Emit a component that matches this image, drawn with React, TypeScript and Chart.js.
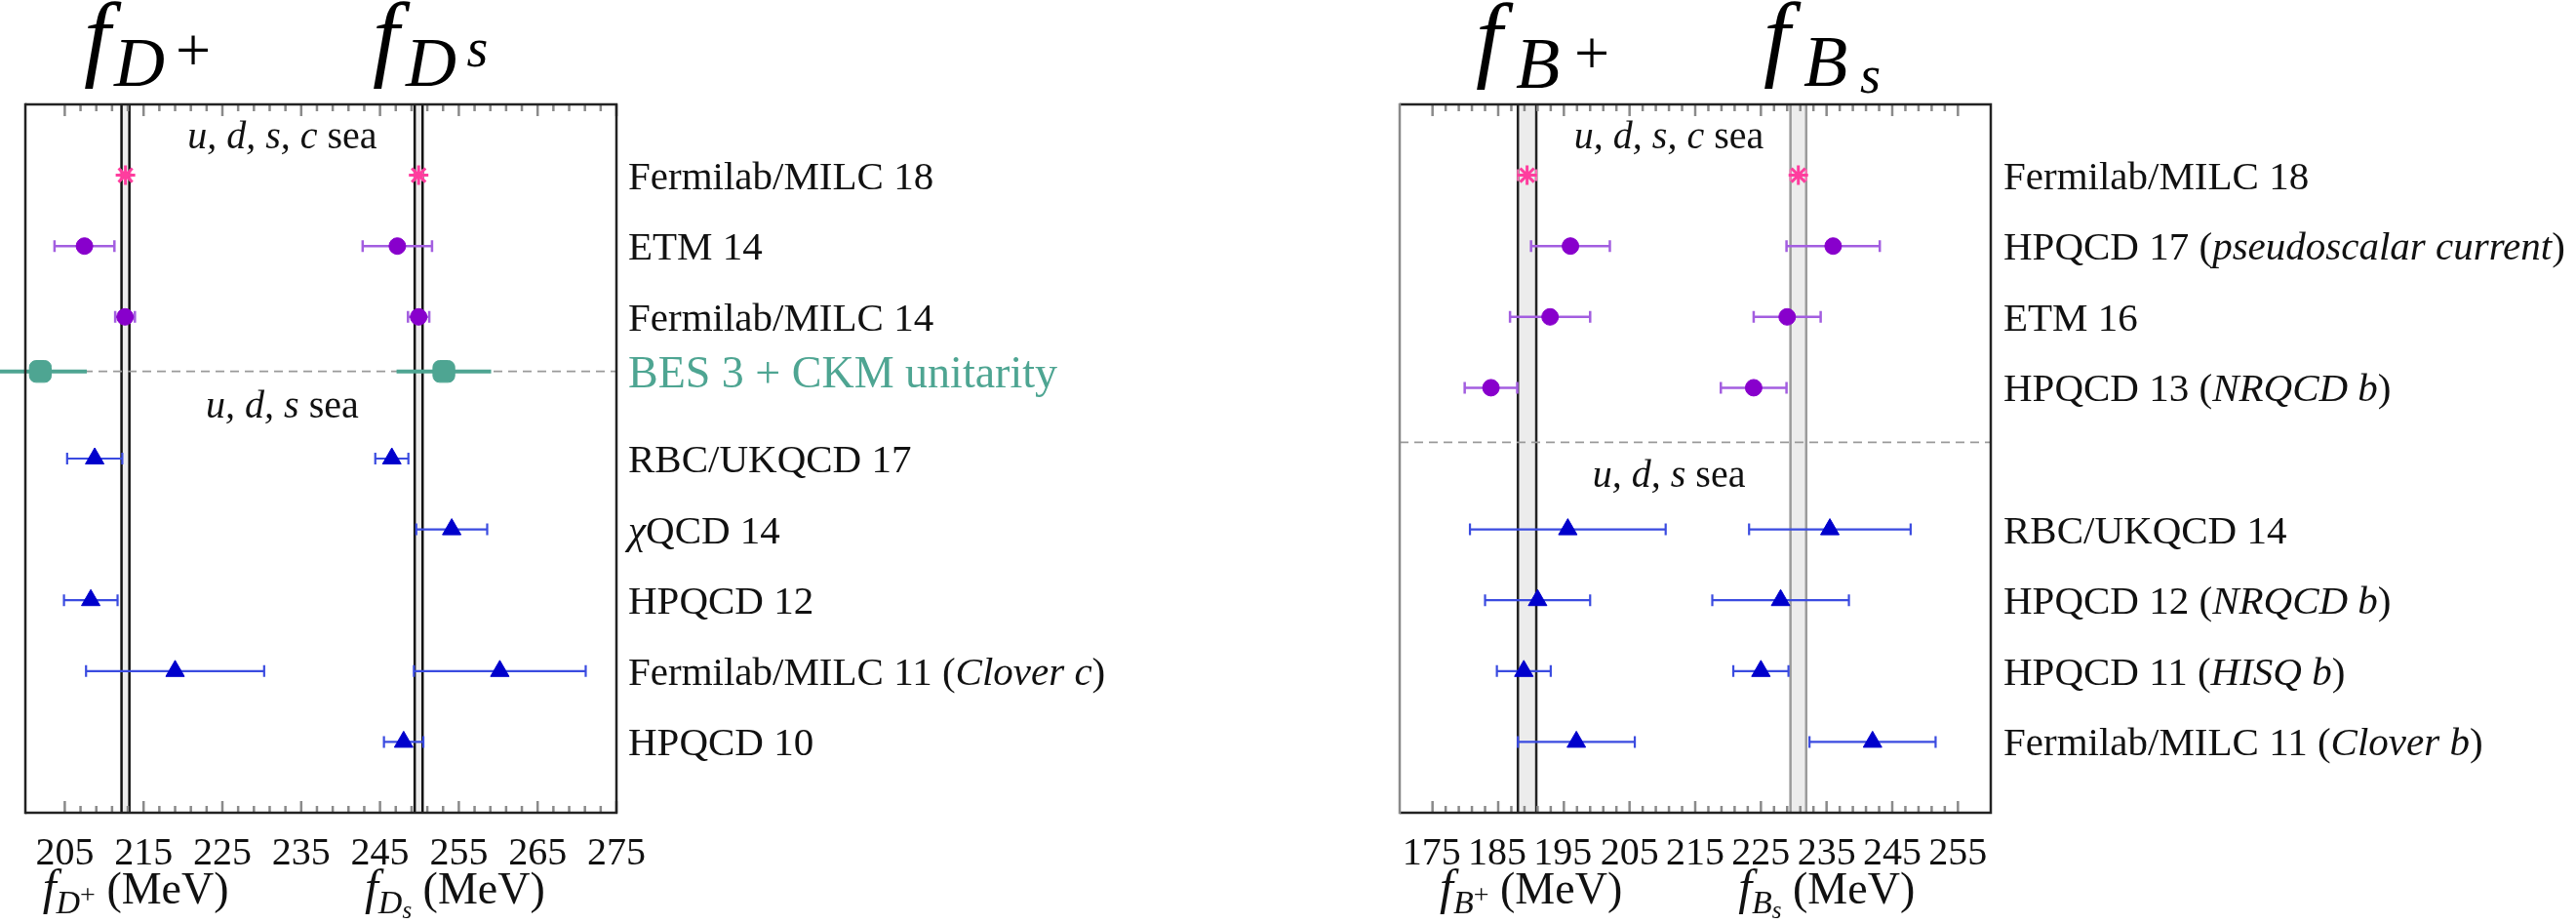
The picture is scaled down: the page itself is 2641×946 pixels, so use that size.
import { useEffect, useRef } from 'react';
import { Chart, registerables } from 'chart.js';

Chart.register(...registerables);

// ---------------- Left panel: f_D+ and f_Ds (MeV) ----------------
const dRows = [0, 1, 2, 2.77, 4, 5, 6, 7, 8];
const dLabels = ['Fermilab/MILC 18', 'ETM 14', 'Fermilab/MILC 14', 'BES 3 + CKM unitarity', 'RBC/UKQCD 17', 'χQCD 14', 'HPQCD 12', 'Fermilab/MILC 11', 'HPQCD 10'];
const dNotes = ['', '', '', '', '', '', '', 'Clover c', ''];
const dKinds = ['star', 'circle', 'circle', 'square', 'tri', 'tri', 'tri', 'tri', 'tri'];
const fDplus = [212.7, 207.5, 212.65, 201.9, 208.8, null, 208.3, 219.0, null];
const fDplusErr = [0.6, 3.8, 1.25, 5.9, 3.5, null, 3.4, 11.3, null];
const fDs = [249.9, 247.2, 249.9, 253.1, 246.5, 254.1, null, 260.2, 248.0];
const fDsErr = [0.5, 4.4, 1.35, 6.0, 2.1, 4.5, null, 10.9, 2.5];
const dBands = [[212.2, 213.2], [249.4, 250.4]];
const dTicks = [205, 215, 225, 235, 245, 255, 265, 275];
const dHeaders = ['u, d, s, c', 'u, d, s'];
const dHeaderRows = [-0.55, 3.26];
const dSeparators = [2.77];

// ---------------- Right panel: f_B+ and f_Bs (MeV) ----------------
const bRows = [0, 1, 2, 3, 5, 6, 7, 8];
const bLabels = ['Fermilab/MILC 18', 'HPQCD 17', 'ETM 16', 'HPQCD 13', 'RBC/UKQCD 14', 'HPQCD 12', 'HPQCD 11', 'Fermilab/MILC 11'];
const bNotes = ['', 'pseudoscalar current', '', 'NRQCD b', '', 'NRQCD b', 'HISQ b', 'Clover b'];
const bKinds = ['star', 'circle', 'circle', 'circle', 'tri', 'tri', 'tri', 'tri'];
const fBplus = [189.4, 196.0, 192.9, 183.9, 195.6, 191.0, 188.9, 196.9];
const fBplusErr = [1.4, 6.0, 6.1, 4.0, 14.9, 8.0, 4.1, 8.9];
const fBs = [230.7, 236.0, 229.0, 223.9, 235.5, 228.0, 225.0, 242.0];
const fBsErr = [1.2, 7.1, 5.1, 5.0, 12.3, 10.4, 4.2, 9.6];
const bBands = [[188.0, 190.8], [229.5, 231.9]];
const bTicks = [175, 185, 195, 205, 215, 225, 235, 245, 255];
const bHeaders = ['u, d, s, c', 'u, d, s'];
const bHeaderRows = [-0.55, 4.23];
const bSeparators = [3.77];

const SERIF = '"Liberation Serif", "Times New Roman", serif';

const STYLES: Record<string, any> = {
  star: { pointStyle: 'star', radius: 10, fill: '#ff3d9e', stroke: '#ff3d9e', bw: 3, err: '#ff6fb5', ew: 2, cap: 12 },
  circle: { pointStyle: 'circle', radius: 8.5, fill: '#8800cc', stroke: '#8800cc', bw: 1, err: '#a35ee0', ew: 2.5, cap: 12 },
  square: { pointStyle: 'rectRounded', radius: 13, fill: '#4ea592', stroke: '#4ea592', bw: 1, err: '#4ea592', ew: 4, cap: 0 },
  tri: { pointStyle: 'triangle', radius: 11, fill: '#0000cc', stroke: '#0000cc', bw: 1, err: '#3a4be0', ew: 2.2, cap: 12 },
};

type Seg = [string, string, number]; // text, font, dy

function buildDatasets(rows: number[], kinds: string[], v1: any[], e1: any[], v2: any[], e2: any[]) {
  const order = ['star', 'circle', 'square', 'tri'];
  const out: any[] = [];
  order.forEach((k) => {
    const data: any[] = [];
    rows.forEach((r, i) => {
      if (kinds[i] !== k) return;
      if (v1[i] != null) data.push({ x: v1[i], y: r, e: e1[i] });
      if (v2[i] != null) data.push({ x: v2[i], y: r, e: e2[i] });
    });
    if (!data.length) return;
    const s = STYLES[k];
    out.push({
      label: k,
      data,
      pointStyle: s.pointStyle,
      pointRadius: s.radius,
      pointHoverRadius: s.radius,
      backgroundColor: s.fill,
      borderColor: s.stroke,
      pointBorderWidth: s.bw,
      errColor: s.err,
      errWidth: s.ew,
      errCap: s.cap,
      showLine: false,
      clip: false,
    });
  });
  return out;
}

function inkText(ctx: CanvasRenderingContext2D, t: string, font: string, cx: number, base: number) {
  ctx.font = font;
  const m = ctx.measureText(t);
  const x = cx - (m.actualBoundingBoxRight - m.actualBoundingBoxLeft) / 2;
  ctx.fillText(t, x, base);
}

function richText(ctx: CanvasRenderingContext2D, segs: Seg[], x: number, base: number, align: 'left' | 'center') {
  let total = 0;
  const ws = segs.map(([t, f]) => {
    ctx.font = f;
    const w = ctx.measureText(t).width;
    total += w;
    return w;
  });
  let cx = align === 'center' ? x - total / 2 : x;
  segs.forEach(([t, f, dy], i) => {
    ctx.font = f;
    ctx.fillText(t, cx, base + dy);
    cx += ws[i];
  });
}

const rom = (s: number) => `${s}px ${SERIF}`;
const ita = (s: number) => `italic ${s}px ${SERIF}`;

function labelSegs(label: string, note: string, size: number): Seg[] {
  const segs: Seg[] = [];
  const parts = label.split(/([\u0370-\u03FF])/).filter((p) => p.length);
  parts.forEach((p) => {
    if (/[\u0370-\u03FF]/.test(p)) segs.push([p, ita(size), 0]);
    else segs.push([p, rom(size), 0]);
  });
  if (note) {
    segs.push([' (', rom(size), 0]);
    segs.push([note, ita(size), 0]);
    segs.push([')', rom(size), 0]);
  }
  return segs;
}

function makePlugin(p: any) {
  return {
    id: 'decor_' + p.key,
    beforeDatasetsDraw(chart: any) {
      const ctx: CanvasRenderingContext2D = chart.ctx;
      const xs = chart.scales.x;
      const ys = chart.scales.y;
      const { top, bottom, left, right } = chart.chartArea;
      ctx.save();
      p.bands.forEach((b: number[], i: number) => {
        const x1 = xs.getPixelForValue(b[0]);
        const x2 = xs.getPixelForValue(b[1]);
        ctx.fillStyle = '#ececec';
        ctx.fillRect(x1, top, x2 - x1, bottom - top);
        ctx.strokeStyle = p.bandLine[i];
        ctx.lineWidth = 2.5;
        [x1, x2].forEach((x) => {
          ctx.beginPath();
          ctx.moveTo(x, top);
          ctx.lineTo(x, bottom);
          ctx.stroke();
        });
      });
      ctx.setLineDash([9, 6]);
      ctx.strokeStyle = '#9a9a9a';
      ctx.lineWidth = 1.8;
      p.separators.forEach((r: number) => {
        const y = ys.getPixelForValue(r);
        ctx.beginPath();
        ctx.moveTo(left, y);
        ctx.lineTo(right, y);
        ctx.stroke();
      });
      ctx.setLineDash([]);
      chart.data.datasets.forEach((ds: any) => {
        ctx.strokeStyle = ds.errColor;
        ctx.lineWidth = ds.errWidth;
        ds.data.forEach((pt: any) => {
          const y = ys.getPixelForValue(pt.y);
          const xa = xs.getPixelForValue(pt.x - pt.e);
          const xb = xs.getPixelForValue(pt.x + pt.e);
          ctx.beginPath();
          ctx.moveTo(xa, y);
          ctx.lineTo(xb, y);
          ctx.stroke();
          if (ds.errCap > 0) {
            const h = ds.errCap / 2;
            ctx.beginPath();
            ctx.moveTo(xa, y - h);
            ctx.lineTo(xa, y + h);
            ctx.moveTo(xb, y - h);
            ctx.lineTo(xb, y + h);
            ctx.stroke();
          }
        });
      });
      ctx.restore();
    },
    afterDatasetsDraw(chart: any) {
      const ctx: CanvasRenderingContext2D = chart.ctx;
      const xs = chart.scales.x;
      const ys = chart.scales.y;
      const { top, bottom, left, right } = chart.chartArea;
      ctx.save();
      ctx.strokeStyle = '#8a8a8a';
      ctx.lineWidth = 2.5;
      const t0 = p.ticks[0];
      const t1 = p.ticks[p.ticks.length - 1];
      for (let v = t0; v <= t1 + 0.001; v += 2) {
        const major = p.ticks.some((t: number) => Math.abs(t - v) < 0.01);
        const len = major ? 12 : 7;
        const x = xs.getPixelForValue(v);
        ctx.beginPath();
        ctx.moveTo(x, top);
        ctx.lineTo(x, top + len);
        ctx.moveTo(x, bottom);
        ctx.lineTo(x, bottom - len);
        ctx.stroke();
      }
      ctx.lineWidth = 2.5;
      ctx.strokeStyle = '#222';
      ctx.beginPath();
      ctx.moveTo(left, top);
      ctx.lineTo(right, top);
      ctx.lineTo(right, bottom);
      ctx.lineTo(left, bottom);
      ctx.stroke();
      ctx.strokeStyle = p.leftEdge;
      ctx.beginPath();
      ctx.moveTo(left, top - 1.2);
      ctx.lineTo(left, bottom + 1.2);
      ctx.stroke();

      ctx.fillStyle = '#111';
      ctx.textBaseline = 'alphabetic';
      ctx.textAlign = 'left';
      p.ticks.forEach((t: number) => {
        inkText(ctx, String(t), rom(40), xs.getPixelForValue(t), bottom + 53);
      });
      p.axisTitles.forEach((a: any) => {
        richText(ctx, a.segs, xs.getPixelForValue(a.at), bottom + 93, 'center');
      });
      p.headers.forEach((h: string, i: number) => {
        const y = ys.getPixelForValue(p.headerRows[i]);
        richText(ctx, [[h, ita(40), 0], [' sea', rom(40), 0]], xs.getPixelForValue(p.headerAt), y + 12, 'center');
      });
      p.labels.forEach((lab: string, i: number) => {
        const y = ys.getPixelForValue(p.rows[i]);
        if (p.kinds[i] === 'square') {
          ctx.fillStyle = '#4ea592';
          richText(ctx, [[lab, rom(46), 0]], p.labelX, y + 16, 'left');
        } else {
          ctx.fillStyle = '#111';
          richText(ctx, labelSegs(lab, p.notes[i], 41), p.labelX, y + 14, 'left');
        }
      });
      ctx.fillStyle = '#000';
      p.titles.forEach((g: any) => {
        inkText(ctx, g.t, g.italic ? ita(g.size) : rom(g.size), g.cx, g.base);
      });
      ctx.restore();
    },
  };
}

const axisSegs = (sub: string, sup: string, supIsSub: boolean): Seg[] => [
  ['f', ita(50), 0],
  [sub, ita(34), 10],
  [sup, supIsSub ? ita(25) : rom(28), supIsSub ? 15 : 0],
  [' (MeV)', rom(46), 0],
];

const LEFT_OFF = 0;
const RIGHT_OFF = 1320;

const panels = [
  {
    key: 'D',
    off: LEFT_OFF,
    width: 1320,
    pad: { left: 26, right: 1320 - 632, top: 107, bottom: 946 - 833 },
    xmin: 200,
    xmax: 275,
    rows: dRows,
    labels: dLabels,
    notes: dNotes,
    kinds: dKinds,
    v1: fDplus,
    e1: fDplusErr,
    v2: fDs,
    e2: fDsErr,
    bands: dBands,
    bandLine: ['#111', '#111'],
    ticks: dTicks,
    headers: dHeaders,
    headerRows: dHeaderRows,
    headerAt: 232.6,
    separators: dSeparators,
    leftEdge: '#222',
    labelX: 644 - LEFT_OFF,
    axisTitles: [
      { at: 214, segs: axisSegs('D', '+', false) },
      { at: 254.5, segs: axisSegs('D', 's', true) },
    ],
    titles: [
      { t: 'f', italic: true, size: 98, cx: 106 - LEFT_OFF, base: 70 },
      { t: 'D', italic: true, size: 72, cx: 142 - LEFT_OFF, base: 88 },
      { t: '+', italic: false, size: 64, cx: 198 - LEFT_OFF, base: 73 },
      { t: 'f', italic: true, size: 98, cx: 402 - LEFT_OFF, base: 70 },
      { t: 'D', italic: true, size: 72, cx: 441 - LEFT_OFF, base: 88 },
      { t: 's', italic: true, size: 56, cx: 489 - LEFT_OFF, base: 68 },
    ],
  },
  {
    key: 'B',
    off: RIGHT_OFF,
    width: 1321,
    pad: { left: 1435 - RIGHT_OFF, right: 1321 - (2041 - RIGHT_OFF), top: 107, bottom: 946 - 833 },
    xmin: 170,
    xmax: 260,
    rows: bRows,
    labels: bLabels,
    notes: bNotes,
    kinds: bKinds,
    v1: fBplus,
    e1: fBplusErr,
    v2: fBs,
    e2: fBsErr,
    bands: bBands,
    bandLine: ['#222', '#9a9a9a'],
    ticks: bTicks,
    headers: bHeaders,
    headerRows: bHeaderRows,
    headerAt: 211,
    separators: bSeparators,
    leftEdge: '#8a8a8a',
    labelX: 2054 - RIGHT_OFF,
    axisTitles: [
      { at: 190, segs: axisSegs('B', '+', false) },
      { at: 235, segs: axisSegs('B', 's', true) },
    ],
    titles: [
      { t: 'f', italic: true, size: 98, cx: 1533 - RIGHT_OFF, base: 71 },
      { t: 'B', italic: true, size: 74, cx: 1576 - RIGHT_OFF, base: 90 },
      { t: '+', italic: false, size: 64, cx: 1632 - RIGHT_OFF, base: 76 },
      { t: 'f', italic: true, size: 98, cx: 1828 - RIGHT_OFF, base: 70 },
      { t: 'B', italic: true, size: 74, cx: 1871 - RIGHT_OFF, base: 88 },
      { t: 's', italic: true, size: 54, cx: 1917 - RIGHT_OFF, base: 95 },
    ],
  },
];

function Panel({ p }: { p: any }) {
  const ref = useRef<HTMLCanvasElement | null>(null);
  useEffect(() => {
    if (!ref.current) return;
    const chart = new Chart(ref.current, {
      type: 'scatter',
      data: { datasets: buildDatasets(p.rows, p.kinds, p.v1, p.e1, p.v2, p.e2) as any },
      options: {
        animation: false,
        responsive: false,
        devicePixelRatio: 1,
        events: [],
        layout: { padding: p.pad },
        plugins: { legend: { display: false }, tooltip: { enabled: false }, title: { display: false } },
        scales: {
          x: { type: 'linear', min: p.xmin, max: p.xmax, display: false },
          y: { type: 'linear', min: -1, max: 9, reverse: true, display: false },
        },
      },
      plugins: [makePlugin(p) as any],
    });
    return () => chart.destroy();
  }, [p]);
  return (
    <canvas
      ref={ref}
      width={p.width}
      height={946}
      style={{ position: 'absolute', left: p.off, top: 0, width: p.width, height: 946, display: 'block' }}
    />
  );
}

export default function App() {
  return (
    <div style={{ position: 'fixed', left: 0, top: 0, width: 2641, height: 946, background: '#fff', overflow: 'hidden' }}>
      {panels.map((p) => (
        <Panel key={p.key} p={p} />
      ))}
    </div>
  );
}
